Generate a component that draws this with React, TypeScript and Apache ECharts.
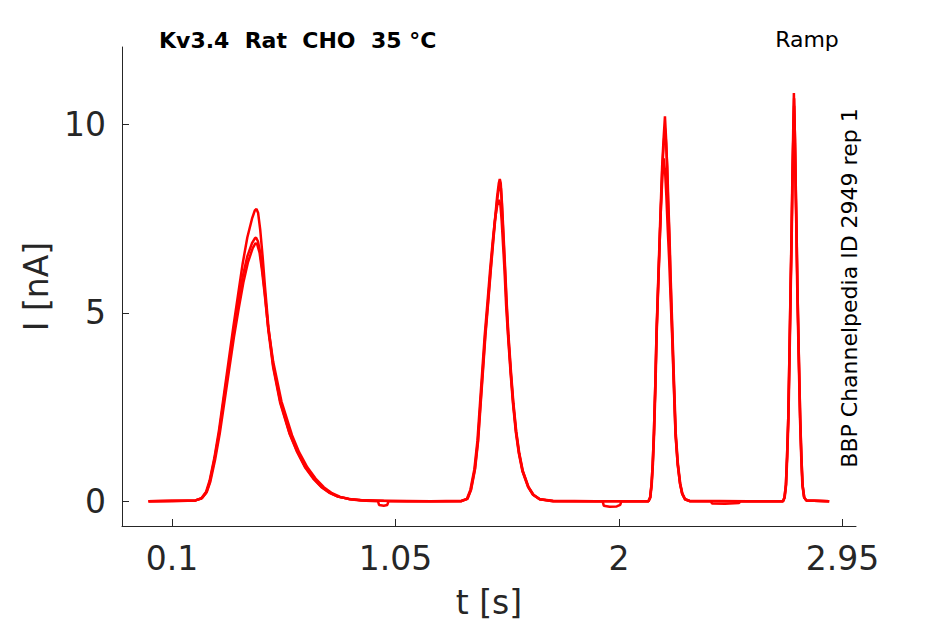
import React, { useEffect, useRef } from "react";
import * as echarts from "echarts";

const xTicks = [0.1, 1.05, 2, 2.95];
const yTicks = [0, 5, 10];

const titleText = "Kv3.4  Rat  CHO  35 °C";
const protocolText = "Ramp";
const sideText = "BBP Channelpedia ID 2949 rep 1";

const trace1: number[][] = [
  [0.0, 0.0], [0.1, 0.01], [0.2, 0.02], [0.225, 0.08], [0.245, 0.25], [0.26, 0.55], [0.28, 1.15], [0.3, 1.9],
  [0.32, 2.8], [0.34, 3.7], [0.36, 4.6], [0.38, 5.45], [0.4, 6.3], [0.42, 7.0], [0.44, 7.5], [0.452, 7.72],
  [0.459, 7.76], [0.466, 7.65], [0.475, 7.2], [0.485, 6.5], [0.495, 5.7], [0.51, 4.6], [0.53, 3.6], [0.56, 2.65],
  [0.6, 1.8], [0.63, 1.35], [0.665, 0.92], [0.7, 0.62], [0.735, 0.38], [0.77, 0.22], [0.805, 0.12], [0.85, 0.06],
  [0.9, 0.03], [1.0, 0.01], [1.2, 0.0], [1.33, 0.01], [1.355, 0.06], [1.37, 0.3], [1.387, 0.85], [1.4, 1.6],
  [1.411, 2.6], [1.421, 3.5], [1.431, 4.4], [1.443, 5.3], [1.454, 6.15], [1.465, 6.95], [1.473, 7.5], [1.482, 8.1],
  [1.489, 8.45], [1.493, 8.55], [1.497, 8.45], [1.501, 8.0], [1.505, 7.45], [1.51, 6.8], [1.515, 6.15], [1.522, 5.2],
  [1.529, 4.4], [1.54, 3.4], [1.55, 2.6], [1.562, 1.85], [1.575, 1.27], [1.59, 0.8], [1.614, 0.38], [1.635, 0.17],
  [1.663, 0.05], [1.72, 0.01], [1.9, 0.0], [2.125, 0.0], [2.132, 0.1], [2.138, 0.45], [2.143, 1.0], [2.148, 1.8],
  [2.154, 3.1], [2.159, 4.46], [2.166, 5.8], [2.173, 7.11], [2.178, 8.0], [2.183, 8.88], [2.189, 9.6], [2.195, 10.22],
  [2.2, 9.6], [2.204, 8.88], [2.208, 8.0], [2.213, 7.11], [2.219, 5.8], [2.226, 4.46], [2.233, 3.1], [2.24, 1.8],
  [2.249, 1.0], [2.259, 0.47], [2.268, 0.2], [2.28, 0.05], [2.3, 0.01], [2.55, 0.0], [2.697, 0.0], [2.703, 0.1],
  [2.709, 0.43], [2.714, 1.2], [2.719, 2.2], [2.724, 3.9], [2.729, 5.74], [2.733, 7.1], [2.736, 8.4], [2.74, 9.8],
  [2.743, 10.84], [2.746, 9.8], [2.75, 8.4], [2.754, 7.0], [2.757, 5.74], [2.763, 3.9], [2.769, 2.2], [2.774, 1.2],
  [2.779, 0.43], [2.786, 0.1], [2.795, 0.02], [2.893, 0.0],
];

const trace2: number[][] = [
  [0.0, 0.0], [0.1, 0.0], [0.2, 0.02], [0.225, 0.07], [0.245, 0.22], [0.26, 0.5], [0.28, 1.1], [0.3, 1.8],
  [0.32, 2.7], [0.34, 3.55], [0.36, 4.4], [0.38, 5.2], [0.4, 5.95], [0.42, 6.5], [0.44, 6.85], [0.452, 6.98],
  [0.457, 7.0], [0.465, 6.9], [0.475, 6.6], [0.485, 6.1], [0.495, 5.5], [0.51, 4.5], [0.53, 3.55], [0.56, 2.6],
  [0.6, 1.78], [0.63, 1.33], [0.665, 0.9], [0.7, 0.6], [0.735, 0.37], [0.77, 0.22], [0.805, 0.12], [0.85, 0.06],
  [0.9, 0.02], [0.975, 0.0], [0.98, -0.1], [1.0, -0.12], [1.015, -0.1], [1.02, 0.0], [1.2, 0.0], [1.33, 0.0],
  [1.353, 0.06], [1.368, 0.3], [1.385, 0.85], [1.398, 1.6], [1.409, 2.6], [1.419, 3.5], [1.429, 4.4], [1.441, 5.3],
  [1.452, 6.15], [1.463, 6.9], [1.472, 7.45], [1.482, 7.85], [1.49, 8.0], [1.496, 7.85], [1.501, 7.45], [1.507, 6.8],
  [1.513, 6.15], [1.52, 5.2], [1.528, 4.4], [1.539, 3.4], [1.549, 2.6], [1.561, 1.85], [1.574, 1.27], [1.589, 0.8],
  [1.613, 0.38], [1.634, 0.17], [1.662, 0.05], [1.72, 0.0], [1.93, 0.0], [1.935, -0.12], [1.96, -0.15], [1.99, -0.14],
  [2.005, -0.1], [2.01, 0.0], [2.125, 0.0], [2.132, 0.1], [2.138, 0.45], [2.143, 1.0], [2.148, 1.8], [2.154, 3.1],
  [2.159, 4.4], [2.166, 5.7], [2.173, 6.95], [2.178, 7.8], [2.184, 8.6], [2.19, 9.1], [2.196, 8.7], [2.201, 8.1],
  [2.207, 7.2], [2.213, 6.4], [2.219, 5.4], [2.226, 4.3], [2.233, 3.0], [2.24, 1.75], [2.249, 0.98], [2.259, 0.46],
  [2.268, 0.2], [2.28, 0.05], [2.3, 0.0], [2.39, 0.0], [2.395, -0.06], [2.45, -0.07], [2.51, -0.05], [2.515, 0.0],
  [2.697, 0.0], [2.703, 0.1], [2.709, 0.43], [2.714, 1.2], [2.719, 2.2], [2.724, 3.85], [2.729, 5.65], [2.733, 7.0],
  [2.736, 8.2], [2.74, 9.5], [2.744, 10.5], [2.748, 9.6], [2.751, 8.3], [2.755, 6.9], [2.758, 5.7], [2.764, 3.85],
  [2.77, 2.15], [2.775, 1.15], [2.78, 0.42], [2.787, 0.1], [2.796, 0.02], [2.893, 0.0],
];

const trace3: number[][] = [
  [0.0, 0.0], [0.1, 0.01], [0.2, 0.02], [0.228, 0.08], [0.248, 0.25], [0.263, 0.52], [0.283, 1.1], [0.303, 1.8],
  [0.323, 2.65], [0.343, 3.5], [0.363, 4.35], [0.383, 5.1], [0.403, 5.8], [0.423, 6.35], [0.443, 6.72], [0.455, 6.85],
  [0.462, 6.82], [0.472, 6.6], [0.482, 6.15], [0.493, 5.55], [0.508, 4.65], [0.53, 3.7], [0.565, 2.65], [0.61, 1.75],
  [0.64, 1.3], [0.675, 0.9], [0.71, 0.6], [0.745, 0.37], [0.78, 0.21], [0.815, 0.11], [0.86, 0.05], [0.92, 0.02],
  [1.1, 0.0], [1.33, 0.0], [1.356, 0.06], [1.371, 0.3], [1.388, 0.85], [1.401, 1.6], [1.412, 2.6], [1.422, 3.5],
  [1.432, 4.4], [1.444, 5.3], [1.455, 6.15], [1.466, 6.95], [1.474, 7.5], [1.483, 8.05], [1.49, 8.35], [1.494, 8.4],
  [1.498, 8.3], [1.502, 7.95], [1.506, 7.45], [1.511, 6.8], [1.516, 6.15], [1.523, 5.2], [1.53, 4.4], [1.541, 3.4],
  [1.551, 2.6], [1.563, 1.85], [1.576, 1.27], [1.591, 0.8], [1.615, 0.38], [1.636, 0.17], [1.664, 0.05], [1.72, 0.0],
  [2.125, 0.0], [2.133, 0.1], [2.139, 0.45], [2.144, 1.0], [2.149, 1.8], [2.155, 3.1], [2.16, 4.46], [2.167, 5.8],
  [2.174, 7.11], [2.179, 8.0], [2.184, 8.88], [2.19, 9.5], [2.195, 9.9], [2.2, 9.5], [2.205, 8.88], [2.209, 8.0],
  [2.214, 7.11], [2.22, 5.8], [2.227, 4.46], [2.234, 3.1], [2.241, 1.8], [2.25, 1.0], [2.26, 0.47], [2.269, 0.2],
  [2.281, 0.05], [2.3, 0.0], [2.697, 0.0], [2.704, 0.1], [2.71, 0.43], [2.715, 1.2], [2.72, 2.2], [2.725, 3.9],
  [2.73, 5.74], [2.734, 7.1], [2.737, 8.4], [2.741, 9.8], [2.744, 10.7], [2.747, 9.8], [2.751, 8.4], [2.755, 7.0],
  [2.758, 5.74], [2.764, 3.9], [2.77, 2.2], [2.775, 1.2], [2.78, 0.43], [2.787, 0.1], [2.796, 0.02], [2.893, 0.0],
];

const traces = [trace1, trace2, trace3];

const FONT = "'DejaVu Sans', sans-serif";
const AXIS_COLOR = "#262626";

export default function App() {
  const ref = useRef<HTMLDivElement>(null);

  useEffect(() => {
    if (!ref.current) return;
    const chart = echarts.init(ref.current, null, { renderer: "svg", width: 945, height: 624 });
    chart.setOption({
      animation: false,
      backgroundColor: "#ffffff",
      grid: { left: 122, top: 47, right: 89, bottom: 98, containLabel: false },
      xAxis: {
        type: "value",
        min: -0.1126,
        max: 3.007,
        axisLine: { show: true, onZero: false, lineStyle: { color: AXIS_COLOR, width: 1 } },
        axisTick: { show: true, inside: true, length: 7, customValues: xTicks, lineStyle: { color: AXIS_COLOR } },
        axisLabel: {
          customValues: xTicks,
          formatter: (v: number) => String(v),
          fontSize: 33,
          color: AXIS_COLOR,
          fontFamily: FONT,
          margin: 16,
        },
        splitLine: { show: false },
        name: "t [s]",
        nameLocation: "middle",
        nameGap: 60,
        nameTextStyle: { fontSize: 33, color: AXIS_COLOR, fontFamily: FONT },
      },
      yAxis: {
        type: "value",
        min: -0.66,
        max: 12.06,
        axisLine: { show: true, onZero: false, lineStyle: { color: AXIS_COLOR, width: 1 } },
        axisTick: { show: true, inside: true, length: 7, customValues: yTicks, lineStyle: { color: AXIS_COLOR } },
        axisLabel: {
          customValues: yTicks,
          formatter: (v: number) => String(v),
          fontSize: 33,
          color: AXIS_COLOR,
          fontFamily: FONT,
          margin: 16,
        },
        splitLine: { show: false },
        name: "I [nA]",
        nameLocation: "middle",
        nameGap: 67,
        nameTextStyle: { fontSize: 33, color: AXIS_COLOR, fontFamily: FONT },
      },
      series: traces.map((d, i) => ({
        type: "line",
        name: "sweep " + (i + 1),
        data: d,
        showSymbol: false,
        symbol: "none",
        smooth: false,
        clip: true,
        lineStyle: { color: "#ff0000", width: 2.5 },
        emphasis: { disabled: true },
      })),
      graphic: [
        {
          type: "text",
          x: 159,
          y: 40,
          style: {
            text: titleText,
            fontSize: 22,
            fontWeight: "bold",
            fontFamily: FONT,
            fill: "#000000",
            align: "left",
            verticalAlign: "middle",
          },
        },
        {
          type: "text",
          x: 807,
          y: 39,
          style: {
            text: protocolText,
            fontSize: 22,
            fontFamily: FONT,
            fill: "#000000",
            align: "center",
            verticalAlign: "middle",
          },
        },
        {
          type: "text",
          x: 849,
          y: 288,
          rotation: Math.PI / 2,
          style: {
            text: sideText,
            fontSize: 22,
            fontFamily: FONT,
            fill: "#000000",
            align: "center",
            verticalAlign: "middle",
          },
        },
      ],
    });
    return () => chart.dispose();
  }, []);

  return (
    <div
      ref={ref}
      style={{ position: "fixed", left: 0, top: 0, width: 945, height: 624, background: "#ffffff" }}
    />
  );
}
